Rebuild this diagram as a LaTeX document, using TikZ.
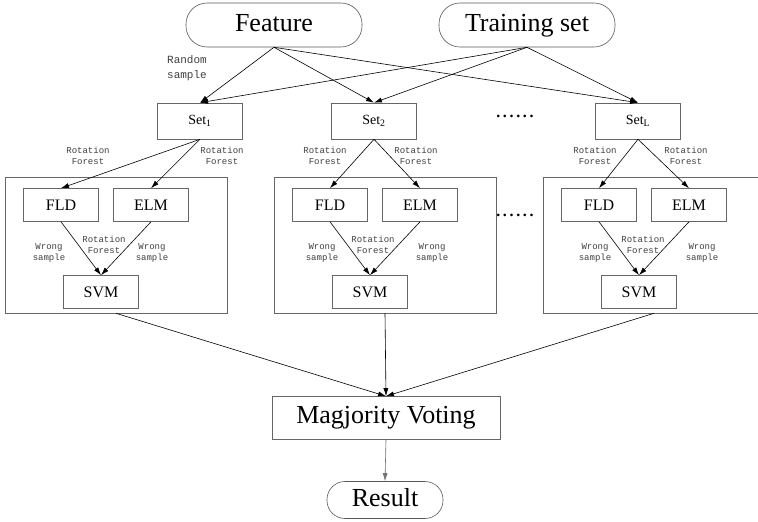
\documentclass[tikz,border=0pt]{standalone}
\usepackage{fontspec}
\setmainfont{Liberation Serif}
\setmonofont{Liberation Mono}
\usepackage{tikz}
\usetikzlibrary{arrows.meta}

\tikzset{
  term/.style={draw=black!65, line width=0.6pt, rounded corners=21pt,
    minimum width=176pt, minimum height=44pt, text height=18pt, text depth=5pt,
    font=\fontsize{26}{28}\selectfont},
  setbox/.style={draw=black!60, line width=0.6pt, minimum width=85pt,
    minimum height=36pt, font=\fontsize{14}{16}\selectfont},
  clf/.style={draw=black!60, line width=0.6pt, minimum width=75pt,
    minimum height=33pt, font=\fontsize{16}{18}\selectfont},
  group/.style={draw=black!60, line width=0.6pt, minimum width=222pt,
    minimum height=136pt},
  lbl/.style={font=\fontsize{9}{11.5}\selectfont\ttfamily, align=center,
    text=black!75, inner sep=0pt},
  dots/.style={font=\fontsize{16}{18}\selectfont\bfseries},
  arr/.style={line width=0.6pt, -{Latex[length=8pt,width=5pt]}}
}

\begin{document}
\begin{tikzpicture}[x=1pt,y=-1pt]
    \clip (0,0) rectangle (758,522);

    % inputs
    \node[term] (feat) at (274,25) {Feature};
    \node[term] (train) at (527,25) {Training set};
    \node[lbl, font=\fontsize{11}{15}\selectfont\ttfamily] (rnd) at (187,68) {Random\\sample};

    % the L groups
    \foreach \i/\sx/\gx/\la/\lb/\wa/\wb/\rm in
      {1/200/116/88/222/49/152/104, 2/374/385/325/416/322/432/373,
       L/638/654/595/686/595/702/643}
    {
    \node[setbox] (set\i) at (\sx,121) {Set\textsubscript{\i}};
    \node[group] (grp\i) at (\gx,245) {};
    \node[clf] (fld\i) at (\gx-55,205) {FLD};
    \node[clf] (elm\i) at (\gx+35,205) {ELM};
    \node[clf] (svm\i) at (\gx-15,292) {SVM};
    \node[lbl] (rfa\i) at (\la,156) {Rotation\\Forest};
    \node[lbl] (rfb\i) at (\lb,156) {Rotation\\Forest};
    \node[lbl] (wsa\i) at (\wa,253) {Wrong\\sample};
    \node[lbl] (wsb\i) at (\wb,253) {Wrong\\sample};
    \node[lbl] (rfc\i) at (\rm,245) {Rotation\\Forest};
    \draw[arr] (feat.south) -- (set\i.north);
    \draw[arr] (train.south) -- (set\i.north);
    \draw[arr] (set\i.south) -- (fld\i.north);
    \draw[arr] (set\i.south) -- (elm\i.north);
    \draw[arr] (fld\i.south) -- (svm\i.north);
    \draw[arr] (elm\i.south) -- (svm\i.north);
    }
    \node[dots] (dta) at (515,116) {.\,.\,.\,.\,.\,.};
    \node[dots] (dtb) at (515,215) {.\,.\,.\,.\,.\,.};

    % voting
    \node[draw=black!60, line width=0.6pt, minimum width=228pt, minimum height=43pt,
      font=\fontsize{26}{28}\selectfont] (vote) at (386,418) {Magjority Voting};
    \node[term, minimum width=116pt, minimum height=37pt, rounded corners=18pt]
      (res) at (385,500) {Result};
    \foreach \i in {1,2,L}
    \draw[arr] (grp\i.south) -- (vote.north);
    \draw[arr, draw=black!55, fill=black!55] (vote.south) -- (res.north);
\end{tikzpicture}
\end{document}
